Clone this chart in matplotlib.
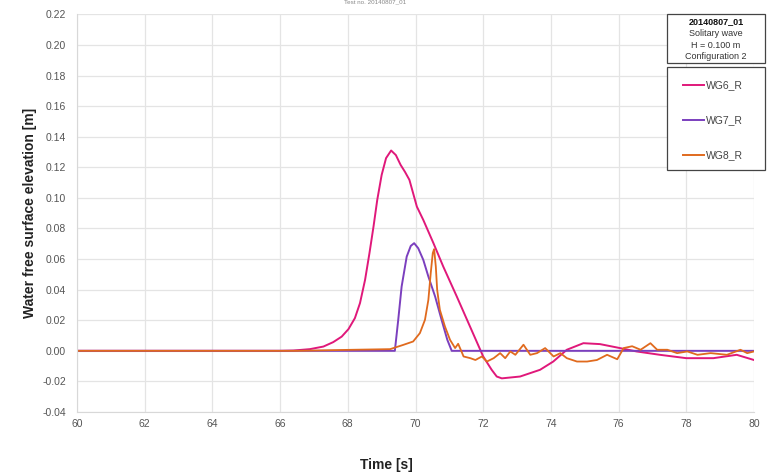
import matplotlib
matplotlib.use("Agg")
import matplotlib.pyplot as plt
from matplotlib.patches import Rectangle

plt.rcParams["font.family"] = ["Liberation Sans Narrow", "Liberation Sans", "DejaVu Sans"]

# ── Data ──────────────────────────────────────────────────────────────────
wg6_t = [60.0, 66.0, 66.39, 66.88, 67.28, 67.57, 67.82, 68.02, 68.21, 68.36, 68.51,
         68.64, 68.76, 68.87, 69.0, 69.13, 69.28, 69.42, 69.56, 69.69, 69.82, 70.04,
         70.23, 70.53, 70.82, 71.22, 71.61, 72.0, 72.25, 72.4, 72.55, 73.09, 73.68,
         74.07, 74.47, 74.96, 75.45, 76.04, 76.53, 77.22, 78.0, 78.8, 79.49, 80.0]
wg6_y = [0.0, 0.0, 0.0002, 0.0011, 0.0028, 0.0057, 0.0093, 0.0142, 0.0214, 0.0312, 0.0464,
         0.0639, 0.0813, 0.0987, 0.115, 0.126, 0.131, 0.128, 0.1216, 0.117, 0.1118, 0.0943,
         0.0856, 0.0704, 0.0551, 0.0355, 0.0159, -0.0037, -0.0124, -0.0168, -0.018, -0.0168, -0.0124,
         -0.007, 0.0007, 0.005, 0.0044, 0.0018, -0.0004, -0.0026, -0.0048, -0.0048, -0.0026, -0.006]

wg7_t = [60.0, 69.39, 69.49, 69.59, 69.74, 69.86, 69.96, 70.08, 70.23, 70.38, 70.58,
         70.77, 70.94, 71.07, 80.0]
wg7_y = [0.0, 0.0, 0.0203, 0.042, 0.0616, 0.0686, 0.0704, 0.0671, 0.0595, 0.0486, 0.0355,
         0.0203, 0.0072, 0.0, 0.0]

wg8_t = [60.0, 66.5, 68.17, 69.25, 69.64, 69.93, 70.13, 70.28, 70.38, 70.45, 70.51,
         70.55, 70.6, 70.64, 70.72, 70.87, 71.02, 71.17, 71.26, 71.36, 71.42, 71.62,
         71.77, 71.96, 72.11, 72.31, 72.5, 72.65, 72.8, 72.95, 73.19, 73.39, 73.59,
         73.83, 74.08, 74.28, 74.47, 74.77, 75.07, 75.36, 75.66, 75.96, 76.15, 76.4,
         76.65, 76.94, 77.14, 77.44, 77.73, 78.03, 78.33, 78.72, 79.2, 79.6, 79.8, 80.0]
wg8_y = [0.0, 0.0, 0.0007, 0.0011, 0.0039, 0.0061, 0.0116, 0.0203, 0.0333, 0.0508, 0.0639,
         0.0665, 0.0551, 0.0399, 0.0268, 0.0159, 0.0072, 0.0018, 0.0046, -0.0005, -0.0037, -0.0048,
         -0.006, -0.0037, -0.007, -0.0048, -0.0015, -0.0048, -0.0004, -0.0026, 0.004, -0.0026, -0.0015,
         0.0018, -0.0037, -0.0015, -0.0048, -0.007, -0.007, -0.006, -0.0026, -0.0055, 0.0018, 0.003,
         0.0007, 0.005, 0.0007, 0.0007, -0.0015, -0.0004, -0.0026, -0.0015, -0.0026, 0.0007, -0.0015, -0.0004]

x_ticks = list(range(60, 81, 2))
y_ticks = [-0.04, -0.02, 0.0, 0.02, 0.04, 0.06, 0.08, 0.10, 0.12, 0.14, 0.16, 0.18, 0.20, 0.22]

info_lines = ["20140807_01", "Solitary wave", "H = 0.100 m", "Configuration 2"]

C_WG6 = "#E0187A"
C_WG7 = "#7B3FBE"
C_WG8 = "#E06A1E"

W, H = 768, 476
fig = plt.figure(figsize=(W / 100, H / 100), dpi=100)
ax = fig.add_axes([77 / W, 1 - 412 / H, (754 - 77) / W, (412 - 14.4) / H])

l6, = ax.plot(wg6_t, wg6_y, color=C_WG6, lw=1.4, label="WG6_R")
l7, = ax.plot(wg7_t, wg7_y, color=C_WG7, lw=1.4, label="WG7_R")
l8, = ax.plot(wg8_t, wg8_y, color=C_WG8, lw=1.3, label="WG8_R")

ax.set_xlim(60, 80)
ax.set_ylim(-0.04, 0.22)
ax.set_xticks(x_ticks)
ax.set_yticks(y_ticks)
ax.set_xticklabels([str(t) for t in x_ticks])
ax.set_yticklabels([f"{v:.2f}" for v in y_ticks])
ax.tick_params(length=0, labelsize=7.5, colors="#555555")
ax.tick_params(axis="x", pad=5)
ax.tick_params(axis="y", pad=8)
ax.grid(True, color="#e4e4e4", lw=0.9)
ax.set_axisbelow(True)
for s in ["top", "right"]:
    ax.spines[s].set_visible(False)
for s in ["left", "bottom"]:
    ax.spines[s].set_color("#d8d8d8")

ax.set_ylabel("Water free surface elevation [m]", fontsize=10, fontweight="bold",
              color="#222222", labelpad=4)
fig.text(386 / W, 1 - 465 / H, "Time [s]", ha="center", va="center",
         fontsize=10, fontweight="bold", color="#222222")

# small truncated header at the very top
fig.text(375 / W, 1 - 2 / H, "Test no. 20140807_01", ha="center", va="center",
         fontsize=4.5, color="#888888")

# info box
fig.patches.append(Rectangle((667 / W, 1 - 63 / H), (765 - 667) / W, (63 - 14) / H,
                             transform=fig.transFigure, fill=True, facecolor="white",
                             edgecolor="#444444", lw=0.9))
for i, txt in enumerate(info_lines):
    fig.text(716 / W, 1 - (22 + i * 11.5) / H, txt, ha="center", va="center",
             fontsize=6.5, color="#333333" if i else "#111111",
             fontweight="bold" if i == 0 else "normal")

# legend box
fig.patches.append(Rectangle((667 / W, 1 - 170 / H), (765 - 667) / W, (170 - 67) / H,
                             transform=fig.transFigure, fill=True, facecolor="white",
                             edgecolor="#444444", lw=0.9))
for i, (ln, name) in enumerate([(l6, "WG6_R"), (l7, "WG7_R"), (l8, "WG8_R")]):
    yy = 1 - (85 + i * 35) / H
    fig.add_artist(plt.Line2D([683 / W, 704 / W], [yy, yy], transform=fig.transFigure,
                              color=ln.get_color(), lw=1.4))
    fig.text(706 / W, yy, name, ha="left", va="center", fontsize=7.5, color="#444444")

fig.savefig("out.png", dpi=100)
